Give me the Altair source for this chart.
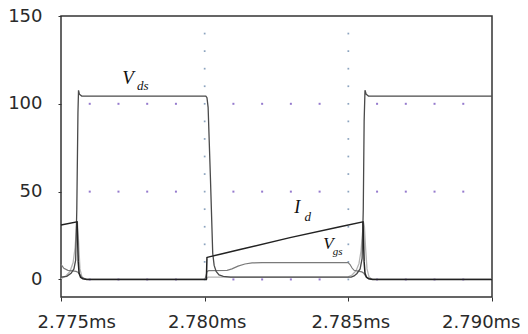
import altair as alt
import pandas as pd

# ---- axis ticks ----
X_TICKS = [2.775, 2.780, 2.785, 2.790]
Y_TICKS = [0, 50, 100, 150]

# ---- waveforms (time in ms, value) ----
vds_t = [2.77500, 2.77520, 2.77535, 2.77545, 2.77551, 2.77555, 2.77559, 2.77561, 2.77564, 2.77572,
         2.78004, 2.78008, 2.78012, 2.78020, 2.78028, 2.78033, 2.78040, 2.78050, 2.78065, 2.78090,
         2.78510, 2.78520, 2.78530, 2.78541, 2.78548, 2.78552, 2.78555, 2.78558, 2.78562, 2.78570, 2.79000]
vds_v = [1.3, 1.8, 3.5, 6, 11, 40, 95, 107.7, 105.5, 104.4,
         104.4, 103.5, 98, 58, 15, 8, 4.5, 2.6, 1.8, 1.3,
         1.3, 2.0, 3.4, 6, 12, 40, 90, 107.7, 105.5, 104.4, 104.4]

id_t = [2.77500, 2.77556, 2.77558, 2.77560, 2.77563, 2.77568, 2.77576, 2.77590,
        2.78006, 2.78008, 2.78012, 2.78123, 2.78297, 2.78471, 2.78551,
        2.78553, 2.78555, 2.78558, 2.78563, 2.78571, 2.78585, 2.79000]
id_v = [31.0, 32.8, 22, 10, 3.5, 1.2, 0.4, 0,
        0, 12.5, 12.7, 17.0, 23.8, 30.0, 32.8,
        22, 10, 3.5, 1.2, 0.4, 0, 0]

vgs_t = [2.77500, 2.77510, 2.77524, 2.77540, 2.77552, 2.77559, 2.77566, 2.77573, 2.77580, 2.77590,
         2.78000, 2.78004, 2.78008, 2.78014, 2.78078, 2.78095, 2.78116, 2.78140, 2.78165, 2.78200,
         2.78499, 2.78506, 2.78513, 2.78520, 2.78534, 2.78547, 2.78554, 2.78561, 2.78570, 2.78585, 2.79000]
vgs_v = [8.6, 6.3, 5.2, 4.9, 4.6, 4.1, 2.8, 1.3, 0.5, 0,
         0, 1.5, 4.5, 5.0, 5.2, 6.0, 7.6, 8.8, 9.4, 9.6,
         9.6, 8.5, 6.5, 5.2, 4.7, 4.3, 3.5, 1.8, 0.6, 0, 0]

spk_t = [2.77500, 2.77517, 2.77531, 2.77542, 2.77549, 2.77554, 2.77557, 2.77561, 2.77566, 2.77573, 2.77587,
         2.78004, 2.78012, 2.78499, 2.78513, 2.78527, 2.78537, 2.78544, 2.78549, 2.78553, 2.78556,
         2.78560, 2.78565, 2.78572, 2.78582, 2.79000]
spk_v = [0.5, 2.0, 4.5, 9.5, 18, 30, 32.8, 22, 6, 1.3, 0,
         0, 1.3, 1.5, 2.5, 5, 9, 16, 26, 32.5, 30,
         18, 6, 1.5, 0, 0]

# ---- dotted grid (positions on the axes) ----
hdot_levels = [0, 50, 100]
hdot_times = [2.776, 2.777, 2.778, 2.779, 2.781, 2.782, 2.783, 2.784,
              2.786, 2.787, 2.788, 2.789]
vdot_times = [2.780, 2.785]
vdot_levels = [0, 10, 20, 30, 40, 50, 60, 70, 80, 90, 100, 110, 120, 130, 140]

# ---- annotation texts ----
lab_text = ["V", "ds", "I", "d", "V", "gs"]
lab_t = [2.77733, 2.77785, 2.78322, 2.78359, 2.78431, 2.78463]
lab_v = [114.8, 110.0, 40.4, 35.4, 20.4, 15.9]
lab_size = [19, 13, 18, 13, 17, 11]

XD = [2.775, 2.790]
YD = [-10, 150]

def series_df(t, v):
    return pd.DataFrame({"t": t, "v": v, "i": list(range(len(t)))})

x_enc = alt.X("t:Q", scale=alt.Scale(domain=XD, nice=False, zero=False),
              axis=alt.Axis(values=X_TICKS, labelExpr="format(datum.value, '.3f') + 'ms'",
                            grid=False, domain=False, tickSize=4, tickColor="#333",
                            labelPadding=12, labelFontSize=18, labelFont="DejaVu Sans",
                            labelColor="#2a2a2a", labelFlush=True, labelFlushOffset=26,
                            labelOffset=2, title=None))
y_enc = alt.Y("v:Q", scale=alt.Scale(domain=YD, nice=False, zero=False),
              axis=alt.Axis(values=Y_TICKS, grid=False, domain=False, tickSize=3,
                            tickColor="#333", labelPadding=16, labelFontSize=18,
                            labelFont="DejaVu Sans", labelColor="#2a2a2a", title=None))

def line(t, v, color, w):
    return alt.Chart(series_df(t, v)).mark_line(color=color, strokeWidth=w).encode(
        x=x_enc, y=y_enc, order="i:Q")

hd = pd.DataFrame([(tt, lv) for lv in hdot_levels for tt in hdot_times], columns=["t", "v"])
vd = pd.DataFrame([(tt, lv) for tt in vdot_times for lv in vdot_levels], columns=["t", "v"])

hdots = alt.Chart(hd).mark_square(size=4, color="#8a6cc8", opacity=0.9).encode(x=x_enc, y=y_enc)
vdots = alt.Chart(vd).mark_square(size=3, color="#7f9ab8", opacity=0.9).encode(x=x_enc, y=y_enc)

labels = alt.Chart(pd.DataFrame({"t": lab_t, "v": lab_v, "txt": lab_text, "fs": lab_size})).mark_text(
    font="Liberation Serif", fontStyle="italic", color="#111", align="center", baseline="middle"
).encode(x=x_enc, y=y_enc, text="txt:N", size=alt.Size("fs:Q", scale=None, legend=None))

chart = alt.layer(
    hdots, vdots,
    line(spk_t, spk_v, "#b4b4b4", 1.3),
    line(vgs_t, vgs_v, "#7a7a7a", 1.2),
    line(vds_t, vds_v, "#4a4a4a", 1.3),
    line(id_t, id_v, "#222222", 1.5),
    labels,
).properties(
    width=431, height=281,
    autosize=alt.AutoSizeParams(type="none"),
    padding={"left": 53, "top": 8, "right": 28, "bottom": 38},
    background="white",
).configure_view(stroke="#333333", strokeWidth=1.5)

chart.save("out.html", embed_options={"renderer": "svg", "actions": False})
